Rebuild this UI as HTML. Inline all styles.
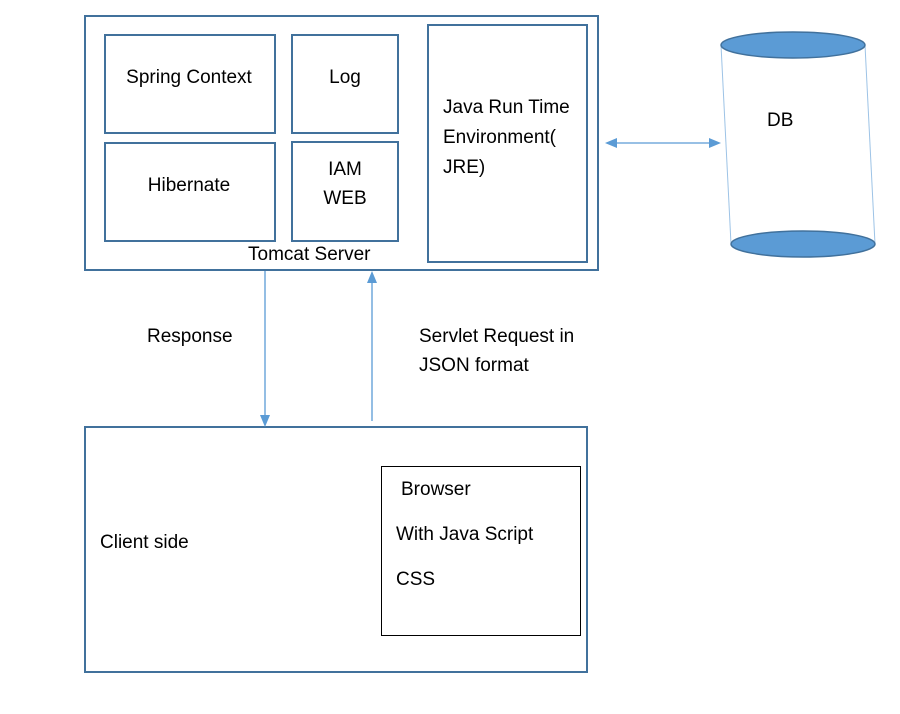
<!DOCTYPE html>
<html><head><meta charset="utf-8"><style>
html,body{margin:0;padding:0;background:#fff;}
svg{display:block;}
text{font-family:"Liberation Sans",sans-serif;font-size:19px;fill:#000;}
</style></head><body>
<svg width="900" height="714" viewBox="0 0 900 714" xmlns="http://www.w3.org/2000/svg">
<g fill="none" stroke="#41719c" stroke-width="2">
<rect x="85" y="16" width="513" height="254"/>
<rect x="105" y="35" width="170" height="98"/>
<rect x="292" y="35" width="106" height="98"/>
<rect x="105" y="143" width="170" height="98"/>
<rect x="292" y="142" width="106" height="99"/>
<rect x="428" y="25" width="159" height="237"/>
<rect x="85" y="427" width="502" height="245"/>
</g>
<rect x="381.5" y="466.5" width="199" height="169" fill="none" stroke="#000" stroke-width="1"/>
<line x1="721" y1="45" x2="731" y2="244" stroke="#9dc3e6" stroke-width="1"/>
<line x1="865" y1="45" x2="875" y2="244" stroke="#9dc3e6" stroke-width="1"/>
<ellipse cx="793" cy="45" rx="72" ry="13" fill="#5b9bd5" stroke="#41719c" stroke-width="1.5"/>
<ellipse cx="803" cy="244" rx="72" ry="13" fill="#5b9bd5" stroke="#41719c" stroke-width="1.5"/>
<g stroke="#5b9bd5" stroke-width="1.3" fill="#5b9bd5">
<line x1="614" y1="143" x2="711" y2="143"/>
<polygon points="605,143 617,138 617,148" stroke="none"/>
<polygon points="721,143 709,138 709,148" stroke="none"/>
<line x1="265" y1="271" x2="265" y2="416"/>
<polygon points="265,427 260,415 270,415" stroke="none"/>
<line x1="372" y1="282" x2="372" y2="421"/>
<polygon points="372,271 367,283 377,283" stroke="none"/>
</g>
<text x="189" y="83" text-anchor="middle">Spring Context</text>
<text x="345" y="83" text-anchor="middle">Log</text>
<text x="189" y="191" text-anchor="middle">Hibernate</text>
<text x="345" y="175" text-anchor="middle">IAM</text>
<text x="345" y="204" text-anchor="middle">WEB</text>
<text x="443" y="113">Java Run Time</text>
<text x="443" y="143">Environment(</text>
<text x="443" y="173">JRE)</text>
<text x="248" y="260">Tomcat Server</text>
<text x="767" y="126">DB</text>
<text x="147" y="342">Response</text>
<text x="419" y="342">Servlet Request in</text>
<text x="419" y="371">JSON format</text>
<text x="100" y="548">Client side</text>
<text x="401" y="495">Browser</text>
<text x="396" y="540">With Java Script</text>
<text x="396" y="585">CSS</text>
</svg>
</body></html>
